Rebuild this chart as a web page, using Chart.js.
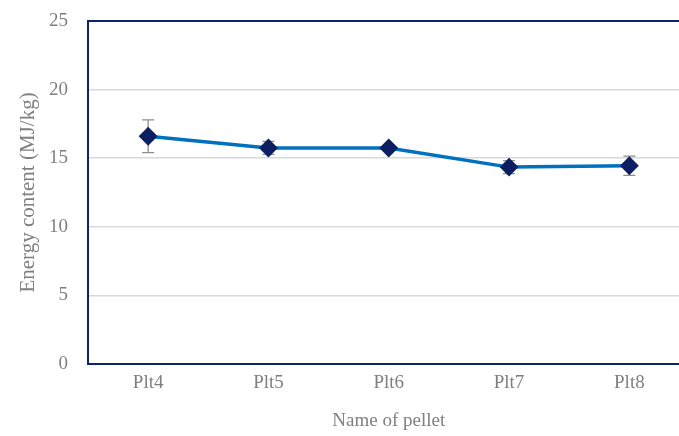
<!DOCTYPE html>
<html>
<head>
<meta charset="utf-8">
<script src="https://cdn.jsdelivr.net/npm/chart.js@4/dist/chart.umd.min.js"></script>
<style>
  html, body { margin: 0; padding: 0; background: #fff; overflow: hidden; }
  #wrap { width: 700px; height: 436px; }
</style>
</head>
<body>
<div id="wrap"><canvas id="energy-chart" width="700" height="436"></canvas></div>
<script>
// chart data
const pellets = ['Plt4', 'Plt5', 'Plt6', 'Plt7', 'Plt8'];
const energyContent = [16.6, 15.75, 15.75, 14.35, 14.45];
const energyError = [1.2, 0.47, 0.15, 0.48, 0.7];
const yTicks = [0, 5, 10, 15, 20, 25];

const labelColor = '#7f7f7f';
const fontFamily = '"Liberation Serif", "DejaVu Serif", serif';

// error bars + plot border
const extrasPlugin = {
    id: 'extras',
    beforeDatasetsDraw(chart) {
        const { ctx, chartArea, scales } = chart;
        ctx.save();
        ctx.strokeStyle = '#8c8c8c';
        ctx.lineWidth = 1.3;
        energyContent.forEach((v, i) => {
            const x = scales.x.getPixelForValue(i);
            const top = scales.y.getPixelForValue(v + energyError[i]);
            const bot = scales.y.getPixelForValue(v - energyError[i]);
            ctx.beginPath();
            ctx.moveTo(x, top); ctx.lineTo(x, bot);
            ctx.moveTo(x - 6, top); ctx.lineTo(x + 6, top);
            ctx.moveTo(x - 6, bot); ctx.lineTo(x + 6, bot);
            ctx.stroke();
        });
        ctx.strokeStyle = '#0d2466';
        ctx.lineWidth = 2;
        ctx.strokeRect(chartArea.left, chartArea.top, chartArea.right - chartArea.left, chartArea.bottom - chartArea.top);
        ctx.restore();
    }
};

const ctx = document.getElementById('energy-chart').getContext('2d');
new Chart(ctx, {
    type: 'line',
    data: {
        labels: pellets,
        datasets: [{
            data: energyContent,
            borderColor: '#0070c0',
            borderWidth: 3.5,
            pointStyle: 'rectRot',
            pointRadius: 7,
            pointBackgroundColor: '#0c1f63',
            pointBorderColor: '#0c1f63',
            tension: 0
        }]
    },
    options: {
        responsive: false,
        animation: false,
        layout: { padding: { top: 21, right: 8, left: 0, bottom: 0 } },
        plugins: { legend: { display: false }, tooltip: { enabled: false } },
        scales: {
            x: {
                offset: true,
                grid: { display: false },
                border: { display: false },
                ticks: { color: labelColor, font: { family: fontFamily, size: 19 }, padding: 0 },
                title: { display: true, text: 'Name of pellet', color: labelColor, font: { family: fontFamily, size: 19 }, padding: { top: 0 } },
                afterFit(scale) { scale.height = 72; }
            },
            y: {
                min: 0,
                max: 25,
                afterBuildTicks(scale) { scale.ticks = yTicks.map(v => ({ value: v })); },
                grid: { color: '#d9d9d9', lineWidth: 1.5, drawTicks: false },
                border: { display: false },
                ticks: { color: labelColor, font: { family: fontFamily, size: 19 }, padding: 20 },
                title: { display: true, text: 'Energy content (MJ/kg)', color: labelColor, font: { family: fontFamily, size: 21 }, padding: { top: 16, bottom: 0 } },
                afterFit(scale) { scale.width = 88; scale.paddingTop = 0; scale.paddingBottom = 0; }
            }
        }
    },
    plugins: [extrasPlugin]
});
</script>
</body>
</html>
